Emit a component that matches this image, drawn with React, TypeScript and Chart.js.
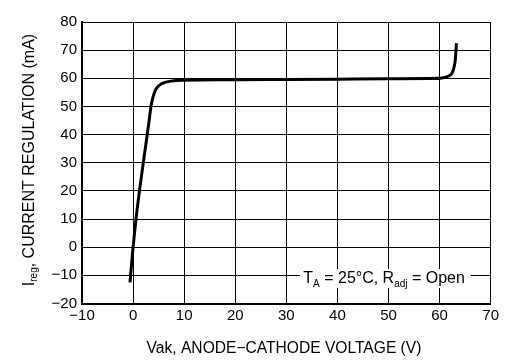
import React, { useEffect, useRef } from 'react';
import { Chart, registerables } from 'chart.js';

Chart.register(...registerables);

// Anode-cathode voltage (V) and regulated current (mA)
const voltage = [-0.6, -0.25, 0.7, 2.0, 3.0, 3.6, 4.1, 4.6, 5.6, 7.9, 10, 20, 30, 40, 50, 58, 60.5, 61.8, 62.5, 62.9, 63.1, 63.3];
const current = [-12.5, -5, 12, 30, 43, 51, 54.5, 56.5, 58.1, 59.1, 59.3, 59.5, 59.6, 59.7, 59.8, 59.9, 60.1, 60.8, 62, 64.5, 67, 72.5];

const xTickValues = [-10, 0, 10, 20, 30, 40, 50, 60, 70];
const yTickValues = [-20, -10, 0, 10, 20, 30, 40, 50, 60, 70, 80];

const xTitle = 'Vak, ANODE\u2212CATHODE VOLTAGE (V)';
const yTitleParts = [
  { text: 'I', sub: false },
  { text: 'reg', sub: true },
  { text: ', CURRENT REGULATION (mA)', sub: false },
];
const noteParts = [
  { text: 'T', sub: false },
  { text: 'A', sub: true },
  { text: ' = 25\u00B0C, R', sub: false },
  { text: 'adj', sub: true },
  { text: ' = Open', sub: false },
];

const FONT = "'Liberation Sans', Arial, Helvetica, sans-serif";

type Part = { text: string; sub: boolean };

function richWidth(ctx: CanvasRenderingContext2D, parts: Part[], main: number, sub: number) {
  let w = 0;
  for (const p of parts) {
    ctx.font = `${p.sub ? sub : main}px ${FONT}`;
    w += ctx.measureText(p.text).width;
  }
  return w;
}

function drawRich(ctx: CanvasRenderingContext2D, parts: Part[], x: number, y: number, main: number, sub: number, off: number) {
  let cx = x;
  ctx.textAlign = 'left';
  ctx.textBaseline = 'alphabetic';
  for (const p of parts) {
    ctx.font = `${p.sub ? sub : main}px ${FONT}`;
    ctx.fillText(p.text, cx, p.sub ? y + off : y);
    cx += ctx.measureText(p.text).width;
  }
}

const minus = (v: number) => String(v).replace('-', '\u2212');

const decorPlugin = {
  id: 'decor',
  afterDraw(chart: any) {
    const ctx: CanvasRenderingContext2D = chart.ctx;
    ctx.save();
    // note box
    ctx.fillStyle = '#fff';
    ctx.fillRect(292, 261, 170.7, 19);
    ctx.fillStyle = '#000';
    drawRich(ctx, noteParts, 295.3, 275.3, 16, 10, 3.5);

    // x title
    ctx.font = `15.6px ${FONT}`;
    ctx.textAlign = 'center';
    ctx.textBaseline = 'alphabetic';
    ctx.fillText(xTitle, 276, 344.7);

    // y title (rotated)
    const w = richWidth(ctx, yTitleParts, 16, 10);
    ctx.translate(26.3, 152 + w / 2);
    ctx.rotate(-Math.PI / 2);
    drawRich(ctx, yTitleParts, 0, 0, 16, 10, 3);
    ctx.restore();
  },
};

export default function App() {
  const ref = useRef<HTMLCanvasElement | null>(null);
  useEffect(() => {
    if (!ref.current) return;
    Chart.defaults.font.family = FONT;
    Chart.defaults.color = '#000';
    const chart = new Chart(ref.current, {
      type: 'scatter',
      data: {
        datasets: [
          {
            data: voltage.map((v, i) => ({ x: v, y: current[i] })),
            showLine: true,
            borderColor: '#000',
            borderWidth: 3,
            pointRadius: 0,
            cubicInterpolationMode: 'monotone',
            fill: false,
          },
        ],
      },
      options: {
        animation: false,
        responsive: false,
        layout: { padding: { top: 7, right: 10, left: 0, bottom: 0 } },
        plugins: { legend: { display: false }, tooltip: { enabled: false } },
        scales: {
          x: {
            type: 'linear',
            min: -10,
            max: 70,
            afterBuildTicks: (s: any) => {
              s.ticks = xTickValues.map((v) => ({ value: v }));
            },
            afterFit: (s: any) => {
              s.height = 52.5;
            },
            grid: { color: '#000', lineWidth: 1, drawTicks: false },
            border: { color: '#000', width: 2 },
            ticks: {
              padding: 3,
              font: { size: 15, family: FONT },
              color: '#000',
              maxRotation: 0,
              callback: (v: any) => minus(v),
            },
          },
          y: {
            type: 'linear',
            min: -20,
            max: 80,
            afterBuildTicks: (s: any) => {
              s.ticks = yTickValues.map((v) => ({ value: v }));
            },
            afterFit: (s: any) => {
              s.width = 74;
            },
            grid: { color: '#000', lineWidth: 1, drawTicks: false },
            border: { color: '#000', width: 2 },
            ticks: {
              padding: 5,
              font: { size: 15, family: FONT },
              color: '#000',
              callback: (v: any) => minus(v),
            },
          },
        },
      },
      plugins: [decorPlugin],
    } as any);
    return () => chart.destroy();
  }, []);
  return <canvas ref={ref} width={494} height={348} style={{ display: 'block' }} />;
}
